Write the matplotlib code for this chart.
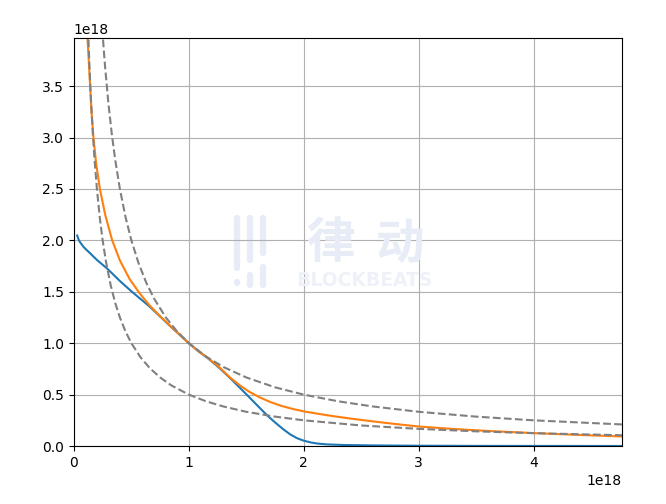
import matplotlib
matplotlib.use("Agg")
import matplotlib.pyplot as plt
from matplotlib.lines import Line2D
import numpy as np

SCALE = 1e18

# blue curve (values in units of 1e18)
blue_x = [0.029, 0.035, 0.045, 0.058, 0.087, 0.145, 0.20, 0.29, 0.40, 0.50, 0.58,
          0.655, 0.75, 0.838, 0.923, 1.00, 1.08, 1.17, 1.26, 1.36, 1.45, 1.53,
          1.60, 1.68, 1.75, 1.82, 1.88, 1.94, 2.00, 2.06, 2.12, 2.20, 2.35,
          2.60, 3.00, 3.50, 4.00, 4.77]
blue_y = [2.047, 2.025, 1.997, 1.975, 1.932, 1.870, 1.810, 1.725, 1.605, 1.505, 1.43,
          1.360, 1.260, 1.166, 1.080, 1.000, 0.925, 0.850, 0.765, 0.660, 0.560, 0.470,
          0.390, 0.300, 0.230, 0.165, 0.115, 0.077, 0.052, 0.035, 0.024, 0.016, 0.010,
          0.006, 0.003, 0.0015, 0.001, 0.0005]

# orange curve
orange_x = [0.100, 0.118, 0.141, 0.153, 0.170, 0.193, 0.226, 0.272, 0.333, 0.400,
            0.484, 0.572, 0.655, 0.750, 0.838, 0.923, 1.000, 1.080, 1.170, 1.260,
            1.360, 1.450, 1.530, 1.620, 1.700, 1.800, 1.900, 2.000, 2.200, 2.400,
            2.600, 2.800, 3.000, 3.300, 3.600, 4.000, 4.400, 4.770]
orange_y = [4.400, 3.970, 3.500, 3.250, 3.000, 2.750, 2.500, 2.250, 2.000, 1.805,
            1.625, 1.485, 1.372, 1.262, 1.168, 1.080, 1.000, 0.925, 0.852, 0.772,
            0.665, 0.585, 0.525, 0.472, 0.432, 0.392, 0.362, 0.337, 0.300, 0.268,
            0.240, 0.214, 0.190, 0.166, 0.147, 0.126, 0.108, 0.093]

# dashed reference curves
upper_x = [0.24, 0.25, 0.27, 0.30, 0.33, 0.36, 0.40, 0.45, 0.50, 0.56, 0.63, 0.70,
           0.80, 0.90, 1.00, 1.15, 1.30, 1.50, 1.75, 2.00, 2.30, 2.60, 3.00, 3.50,
           4.00, 4.77]
upper_y = [4.167, 4.000, 3.704, 3.333, 3.030, 2.778, 2.500, 2.222, 2.000, 1.786,
           1.587, 1.429, 1.250, 1.111, 1.000, 0.870, 0.769, 0.667, 0.571, 0.500,
           0.435, 0.385, 0.333, 0.286, 0.250, 0.210]
lower_x = [0.12, 0.13, 0.14, 0.15, 0.165, 0.18, 0.20, 0.225, 0.25, 0.28, 0.32, 0.36,
           0.40, 0.45, 0.50, 0.58, 0.66, 0.75, 0.85, 1.00, 1.15, 1.30, 1.50, 1.75,
           2.00, 2.50, 3.00, 3.50, 4.00, 4.77]
lower_y = [4.167, 3.846, 3.571, 3.333, 3.030, 2.778, 2.500, 2.222, 2.000, 1.786,
           1.563, 1.389, 1.250, 1.111, 1.000, 0.862, 0.758, 0.667, 0.588, 0.500,
           0.435, 0.385, 0.333, 0.286, 0.250, 0.200, 0.167, 0.143, 0.125, 0.105]

W, H = 666, 504
fig, ax = plt.subplots(figsize=(6.66, 5.04), dpi=100)
fig.subplots_adjust(left=0.111, right=0.934, top=0.925, bottom=0.115)

# faint watermark (logo bars + text)
wm = "#e8ecf7"
bars = [(237, 218, 268), (237, 282, 283), (250, 218, 260), (250, 275, 285),
        (263, 218, 253), (263, 267, 285)]
for bx, y0, y1 in bars:
    fig.add_artist(Line2D([bx / W, bx / W], [1 - y0 / H, 1 - y1 / H], lw=4.5,
                          color=wm, solid_capstyle="round", zorder=0))
cjk = ["Noto Sans CJK SC", "DejaVu Sans"]
fig.text(330 / W, 1 - 244 / H, "律", fontsize=35, color=wm, ha="center", va="center",
         family=cjk, fontweight="bold", zorder=0)
fig.text(400 / W, 1 - 244 / H, "动", fontsize=35, color=wm, ha="center", va="center",
         family=cjk, fontweight="bold", zorder=0)
fig.text(364 / W, 1 - 280 / H, "BLOCKBEATS", fontsize=13.5, color="#eef1f8",
         ha="center", va="center", fontweight="bold", zorder=0)

ax.plot(np.array(blue_x) * SCALE, np.array(blue_y) * SCALE, color="#1f77b4")
ax.plot(np.array(orange_x) * SCALE, np.array(orange_y) * SCALE, color="#ff7f0e")
ax.plot(np.array(upper_x) * SCALE, np.array(upper_y) * SCALE, "--", color="gray")
ax.plot(np.array(lower_x) * SCALE, np.array(lower_y) * SCALE, "--", color="gray")

ax.set_xlim(0, 4.77 * SCALE)
ax.set_ylim(0, 3.97 * SCALE)
ax.grid(True)
ax.patch.set_alpha(0)

fig.savefig("out.png")
